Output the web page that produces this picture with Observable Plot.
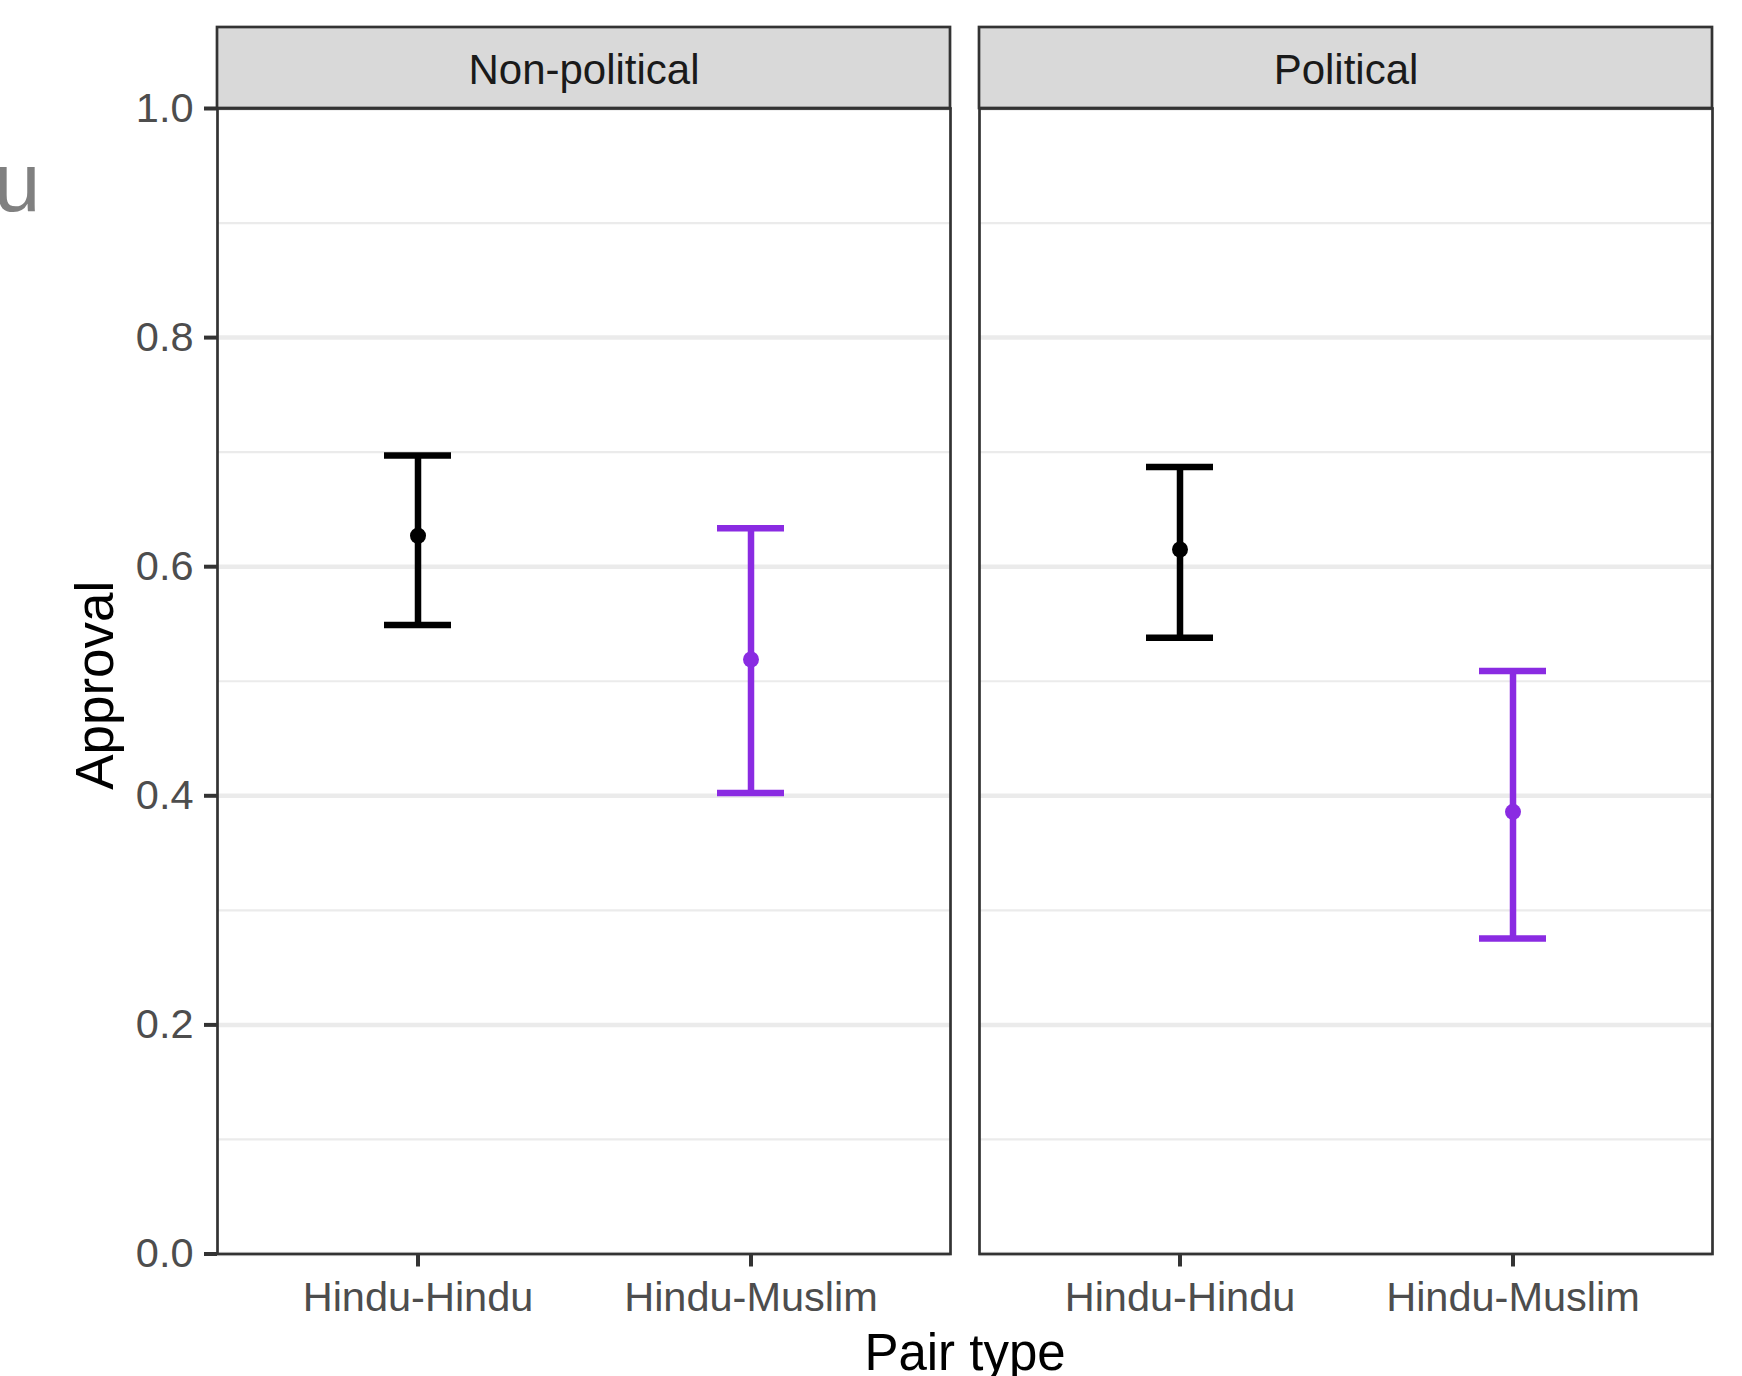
<!DOCTYPE html>
<html>
<head>
<meta charset="utf-8">
<script src="https://cdn.jsdelivr.net/npm/d3@7"></script>
<script src="https://cdn.jsdelivr.net/npm/@observablehq/plot@0.6"></script>
<style>
  html, body { margin: 0; padding: 0; background: #ffffff; overflow: hidden; }
  #chart { width: 1742px; height: 1376px; }
</style>
</head>
<body>
<div id="chart"></div>
<script>
// ---- data ----
const panels = ["Non-political", "Political"];
const pairTypes = ["Hindu-Hindu", "Hindu-Muslim"];
const pairColors = ["#000000", "#8A2BE2"];

const rowPanel = ["Non-political", "Non-political", "Political", "Political"];
const rowPair = ["Hindu-Hindu", "Hindu-Muslim", "Hindu-Hindu", "Hindu-Muslim"];
const estimate = [0.627, 0.519, 0.615, 0.386];
const lower = [0.549, 0.4025, 0.538, 0.2755];
const upper = [0.697, 0.6335, 0.687, 0.509];

const yDomain = [0, 1];
const majorTicks = [0, 0.2, 0.4, 0.6, 0.8, 1.0];
const minorTicks = [0.1, 0.3, 0.5, 0.7, 0.9];

const yTitle = "Approval";
const xTitle = "Pair type";
const strayText = "u";

const rows = estimate.map((e, i) => ({
  panel: rowPanel[i], pair: rowPair[i], est: e, lo: lower[i], hi: upper[i]
}));

const first = [panels[0]];

const chart = Plot.plot({
  width: 1742,
  height: 1376,
  marginLeft: 216,
  marginRight: 29,
  marginTop: 108,
  marginBottom: 122.5,
  style: { fontFamily: "'Liberation Sans', Arial, Helvetica, sans-serif", background: "#ffffff", overflow: "visible" },
  fx: { domain: panels, paddingInner: 0.038, paddingOuter: 0, axis: null, label: null },
  x: { type: "band", domain: pairTypes, paddingInner: 0.8, paddingOuter: 0.5, axis: null, label: null },
  y: { domain: yDomain, axis: null, label: null },
  color: { domain: pairTypes, range: pairColors },
  marks: [
    Plot.gridY({ ticks: minorTicks, stroke: "#EBEBEB", strokeOpacity: 1, strokeWidth: 2.2 }),
    Plot.gridY({ ticks: majorTicks, stroke: "#EBEBEB", strokeOpacity: 1, strokeWidth: 4.5 }),
    Plot.rect(panels, {
      fx: d => d, y1: () => yDomain[1], y2: () => yDomain[1], insetTop: -81,
      fill: "#D9D9D9", stroke: "#333333", strokeWidth: 2.7
    }),
    Plot.frame({ stroke: "#333333", strokeWidth: 2.7 }),
    Plot.text(panels, {
      fx: d => d, text: d => d, frameAnchor: "top", dy: -25, lineAnchor: "bottom",
      fontSize: 42, fill: "#1A1A1A"
    }),
    Plot.axisY({
      ticks: majorTicks, tickFormat: d3.format(".1f"), tickSize: 13, tickPadding: 11,
      fontSize: 41.5, fill: "#4D4D4D", stroke: "#333333", strokeWidth: 4, label: null
    }),
    Plot.axisX({
      tickSize: 13, tickPadding: 14.5, fontSize: 41.5, fill: "#4D4D4D",
      stroke: "#333333", strokeWidth: 4, label: null
    }),
    Plot.ruleX(rows, { fx: "panel", x: "pair", y1: "lo", y2: "hi", stroke: "pair", strokeWidth: 6.5 }),
    Plot.tickY(rows, { fx: "panel", x: "pair", y: "hi", stroke: "pair", strokeWidth: 6.5 }),
    Plot.tickY(rows, { fx: "panel", x: "pair", y: "lo", stroke: "pair", strokeWidth: 6.5 }),
    Plot.dot(rows, { fx: "panel", x: "pair", y: "est", fill: "pair", r: 8 }),
    Plot.text(first, {
      fx: d => d, text: () => yTitle, frameAnchor: "left", rotate: -90, dx: -105, dy: 4,
      lineAnchor: "bottom", textAnchor: "middle", fontSize: 53, fill: "#000000"
    }),
    Plot.text(first, {
      fx: d => d, text: () => xTitle, frameAnchor: "bottom-right", dx: 14.5, dy: 115.5,
      lineAnchor: "bottom", textAnchor: "middle", fontSize: 51, fill: "#000000"
    }),
    Plot.text(first, {
      fx: d => d, text: () => strayText, frameAnchor: "top-left", dx: -177, dy: 102,
      lineAnchor: "bottom", textAnchor: "end", fontSize: 84, fill: "#808080"
    })
  ]
});

document.getElementById("chart").appendChild(chart);
</script>
</body>
</html>
